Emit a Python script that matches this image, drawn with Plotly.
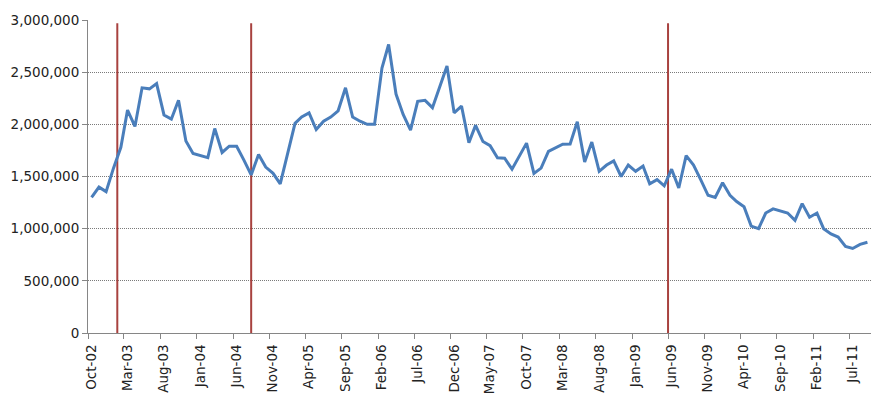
import pandas as pd
import plotly.graph_objects as go

# monthly series, Oct-02 .. Sep-11
start_month = "2002-10-01"
values = [
    1300000, 1398000, 1355000, 1580000, 1780000, 2137000, 1980000, 2350000, 2340000, 2390000,
    2090000, 2050000, 2230000, 1840000, 1720000, 1700000, 1680000, 1960000, 1730000, 1790000,
    1790000, 1660000, 1515000, 1710000, 1590000, 1530000, 1430000, 1720000, 2010000, 2070000,
    2110000, 1950000, 2030000, 2070000, 2130000, 2350000, 2070000, 2030000, 2000000, 2000000,
    2540000, 2765000, 2290000, 2095000, 1945000, 2220000, 2230000, 2160000, 2350000, 2560000,
    2110000, 2175000, 1825000, 1990000, 1835000, 1795000, 1680000, 1675000, 1570000, 1690000,
    1820000, 1530000, 1580000, 1740000, 1780000, 1810000, 1812000, 2025000, 1640000, 1830000,
    1550000, 1610000, 1650000, 1500000, 1610000, 1550000, 1600000, 1430000, 1470000, 1410000,
    1570000, 1390000, 1700000, 1610000, 1470000, 1320000, 1300000, 1440000, 1320000, 1260000,
    1210000, 1025000, 1000000, 1150000, 1190000, 1170000, 1150000, 1080000, 1240000, 1110000,
    1150000, 1000000, 950000, 920000, 830000, 810000, 850000, 870000,
]

tick_labels = [
    "Oct-02", "Mar-03", "Aug-03", "Jan-04", "Jun-04", "Nov-04", "Apr-05", "Sep-05",
    "Feb-06", "Jul-06", "Dec-06", "May-07", "Oct-07", "Mar-08", "Aug-08", "Jan-09",
    "Jun-09", "Nov-09", "Apr-10", "Sep-10", "Feb-11", "Jul-11",
]

# vertical event markers
event_dates = ["2003-02-01", "2004-08-16", "2009-06-01"]
event_top = 2970000

month_starts = pd.date_range(start_month, periods=len(values), freq="MS")
x_mid = month_starts + pd.Timedelta(days=15)
tick_pos = x_mid[::5][: len(tick_labels)]

fig = go.Figure()
for d in event_dates:
    fig.add_trace(
        go.Scatter(
            x=[d, d], y=[0, event_top], mode="lines",
            line=dict(color="#A8423F", width=2), showlegend=False, hoverinfo="skip",
        )
    )
fig.add_trace(
    go.Scatter(
        x=x_mid, y=values, mode="lines",
        line=dict(color="#4A7EBB", width=3), showlegend=False,
    )
)

# page body has an 8px margin, so the figure is sized to land on the reference frame
fig.update_layout(
    width=879,
    height=394,
    margin=dict(l=80, r=16, t=12, b=69),
    plot_bgcolor="white",
    paper_bgcolor="white",
    font=dict(family="DejaVu Sans", size=13.5, color="#222222"),
    xaxis=dict(
        range=[month_starts[0], month_starts[-1] + pd.DateOffset(months=1)],
        automargin=False,
        tickmode="array",
        tickvals=tick_pos,
        ticktext=tick_labels,
        tickangle=-90,
        ticks="outside",
        ticklen=5,
        tickcolor="rgba(0,0,0,0)",
        showgrid=False,
        showline=True,
        linecolor="#868686",
        linewidth=1,
        minor=dict(
            tickmode="linear", tick0=start_month, dtick="M5",
            ticks="outside", ticklen=5, tickcolor="#868686", showgrid=False,
        ),
    ),
    yaxis=dict(
        range=[0, 3000000],
        automargin=False,
        dtick=500000,
        tickformat=",",
        ticks="outside",
        ticklen=5,
        tickcolor="#868686",
        showgrid=True,
        gridcolor="#7a7a7a",
        griddash="1px,1px",
        gridwidth=1,
        showline=True,
        linecolor="#868686",
        linewidth=1,
        zeroline=False,
    ),
)

fig.write_html("out.html")
